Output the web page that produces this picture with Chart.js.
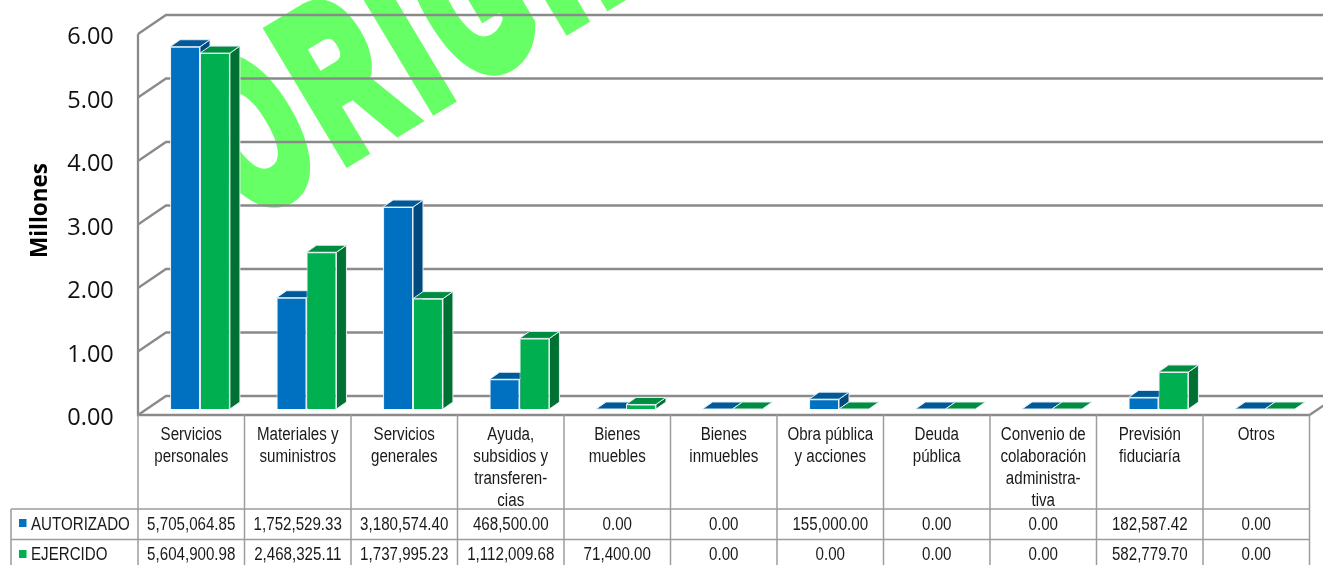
<!DOCTYPE html>
<html><head><meta charset="utf-8">
<style>html,body{margin:0;padding:0;background:#fff}canvas{display:block}</style>
<script src="https://cdn.jsdelivr.net/npm/chart.js@4"></script>
</head><body>
<canvas id="c" width="1323" height="565"></canvas>
<script>
const categories = [
  ['Servicios','personales'],
  ['Materiales y','suministros'],
  ['Servicios','generales'],
  ['Ayuda,','subsidios y','transferen-','cias'],
  ['Bienes','muebles'],
  ['Bienes','inmuebles'],
  ['Obra pública','y acciones'],
  ['Deuda','pública'],
  ['Convenio de','colaboración','administra-','tiva'],
  ['Previsión','fiduciaría'],
  ['Otros']
];
const autorizado = [5705064.85,1752529.33,3180574.40,468500.00,0,0,155000.00,0,0,182587.42,0];
const ejercido   = [5604900.98,2468325.11,1737995.23,1112009.68,71400.00,0,0,0,0,582779.70,0];
const seriesNames = ['AUTORIZADO','EJERCIDO'];
const axisTitle = 'Millones';
const watermark = 'ORIGINAL';

const COL = {
  blue:{front:'#0070C0',top:'#005A9A',side:'#004A80',key:'#0070C0'},
  green:{front:'#00B050',top:'#008D40',side:'#007033',key:'#00B050'}
};
const GRID='#8A8A8A', TBL='#9C9C9C', EDGE='#E4EEF4', INK='#1a1a1a';
const DX=10, DY=7, SQ=0.84;

function poly(ctx,pts,fill,stroke){
  ctx.beginPath();
  pts.forEach((p,i)=>i?ctx.lineTo(p[0],p[1]):ctx.moveTo(p[0],p[1]));
  ctx.closePath();
  ctx.fillStyle=fill;ctx.fill();
  if(stroke){ctx.strokeStyle=stroke;ctx.lineWidth=1;ctx.stroke();}
}
const fmt=v=>v.toLocaleString('en-US',{minimumFractionDigits:2,maximumFractionDigits:2});
function squeezed(ctx,text,x,y,align){
  ctx.save();
  ctx.translate(x,y);ctx.scale(SQ,1);
  ctx.textAlign=align;ctx.textBaseline='middle';
  ctx.font='18px "Liberation Sans",Arial,sans-serif';
  ctx.fillStyle=INK;
  ctx.fillText(text,0,0);
  ctx.restore();
}
function faces(ctx,meta,c){
  meta.data.forEach(b=>{
    const xl=b.x-b.width/2,xr=b.x+b.width/2,yt=Math.min(b.y,b.base),yb=b.base;
    if(yb-yt>0.01) poly(ctx,[[xr,yt],[xr+DX,yt-DY],[xr+DX,yb-DY],[xr,yb]],c.side,EDGE);
    poly(ctx,[[xl,yt],[xl+DX,yt-DY],[xr+DX,yt-DY],[xr,yt]],c.top,EDGE);
  });
}

const scene={
  id:'scene',
  beforeDraw(chart){
    const {ctx}=chart;
    ctx.save();
    ctx.fillStyle='#fff';ctx.fillRect(0,0,chart.width,chart.height);
    ctx.translate(348,167);
    ctx.rotate(-31*Math.PI/180);
    ctx.scale(0.57,1);
    ctx.font='bold 211px "Liberation Sans",Arial,sans-serif';
    ctx.letterSpacing='25px';
    ctx.textBaseline='alphabetic';
    ctx.fillStyle='#66FF66';ctx.strokeStyle='#66FF66';ctx.lineWidth=18;ctx.lineJoin='miter';
    const off=ctx.measureText(watermark[0]).width+8;
    ctx.fillText(watermark,-off,-9);
    ctx.strokeText(watermark,-off,-9);
    ctx.restore();
  },
  beforeDatasetsDraw(chart){
    const {ctx,scales:{y},chartArea:a}=chart;
    const fx=a.left-8.75, bx=fx+28, rf=fx+1171.5;
    ctx.save();
    ctx.strokeStyle=GRID;ctx.lineWidth=2.3;
    y.ticks.forEach(t=>{
      const p=y.getPixelForValue(t.value);
      ctx.beginPath();ctx.moveTo(fx,p+6);ctx.lineTo(bx,p-13);ctx.lineTo(chart.width,p-13);ctx.stroke();
    });
    const base=y.getPixelForValue(0)+6;
    ctx.beginPath();
    ctx.moveTo(fx,y.getPixelForValue(y.max)+6);
    ctx.lineTo(fx,base);ctx.lineTo(rf,base);ctx.lineTo(rf+28,base-19);
    ctx.stroke();
    ctx.strokeStyle=TBL;ctx.lineWidth=1.5;
    const r0=509,r1=539.5,h=chart.height;
    for(let i=0;i<=categories.length;i++){
      const x=fx+i*106.5;
      ctx.beginPath();ctx.moveTo(x,base);ctx.lineTo(x,h);ctx.stroke();
    }
    ctx.beginPath();
    ctx.moveTo(11,r0);ctx.lineTo(rf,r0);
    ctx.moveTo(11,r1);ctx.lineTo(rf,r1);
    ctx.moveTo(11,r0);ctx.lineTo(11,h);
    ctx.stroke();
    categories.forEach((lines,i)=>lines.forEach((t,l)=>
      squeezed(ctx,t,fx+(i+.5)*106.5,435.5+l*21.7,'center')));
    [[autorizado,525.5,COL.blue,519],[ejercido,555,COL.green,550]].forEach((row,ri)=>{
      row[0].forEach((v,i)=>squeezed(ctx,fmt(v),fx+(i+.5)*106.5,row[1],'center'));
      squeezed(ctx,seriesNames[ri],31,row[1],'left');
      ctx.fillStyle=row[2].key;
      ctx.fillRect(19,row[3],7.5,8);
    });
    ctx.translate(41,210.5);ctx.rotate(-Math.PI/2);
    ctx.fillStyle='#000';ctx.textAlign='center';ctx.textBaseline='middle';
    ctx.font='bold 22.5px "Open Sans",sans-serif';
    ctx.fillText(axisTitle,0,0);
    ctx.restore();
  },
  beforeDatasetDraw(chart,args){
    if(args.index===1) return false;      // green is drawn last, over the blue side faces
    chart.ctx.save();faces(chart.ctx,args.meta,COL.blue);chart.ctx.restore();
  },
  afterDatasetsDraw(chart){
    const meta=chart.getDatasetMeta(1);
    chart.ctx.save();faces(chart.ctx,meta,COL.green);meta.controller.draw();chart.ctx.restore();
  }
};

new Chart(document.getElementById('c'),{
  type:'bar',
  data:{labels:categories,datasets:[
    {label:seriesNames[0],data:autorizado,backgroundColor:COL.blue.front,borderColor:EDGE,borderWidth:ctx=>ctx.raw>0?1:0},
    {label:seriesNames[1],data:ejercido,backgroundColor:COL.green.front,borderColor:EDGE,borderWidth:ctx=>ctx.raw>0?1:0}
  ]},
  plugins:[scene],
  options:{
    responsive:false,animation:false,devicePixelRatio:1,
    layout:{padding:{left:0,top:28,right:4.75,bottom:0}},
    plugins:{legend:{display:false},tooltip:{enabled:false},title:{display:false}},
    datasets:{bar:{categoryPercentage:0.562,barPercentage:1,clip:false}},
    scales:{
      x:{
        grid:{display:false},border:{display:false},
        ticks:{display:false},
        afterFit(s){s.height=156;}
      },
      y:{
        min:0,max:6000000,
        grid:{display:false,drawTicks:false},border:{display:false},
        ticks:{stepSize:1000000,padding:33,labelOffset:9.5,color:'#111',
          font:{family:'"Open Sans",sans-serif',size:23.5},
          callback:v=>(v/1000000).toFixed(2)},
        afterFit(s){s.width=146.75;s.paddingTop=0;s.paddingBottom=0;}
      }
    }
  }
});
</script>
</body></html>
